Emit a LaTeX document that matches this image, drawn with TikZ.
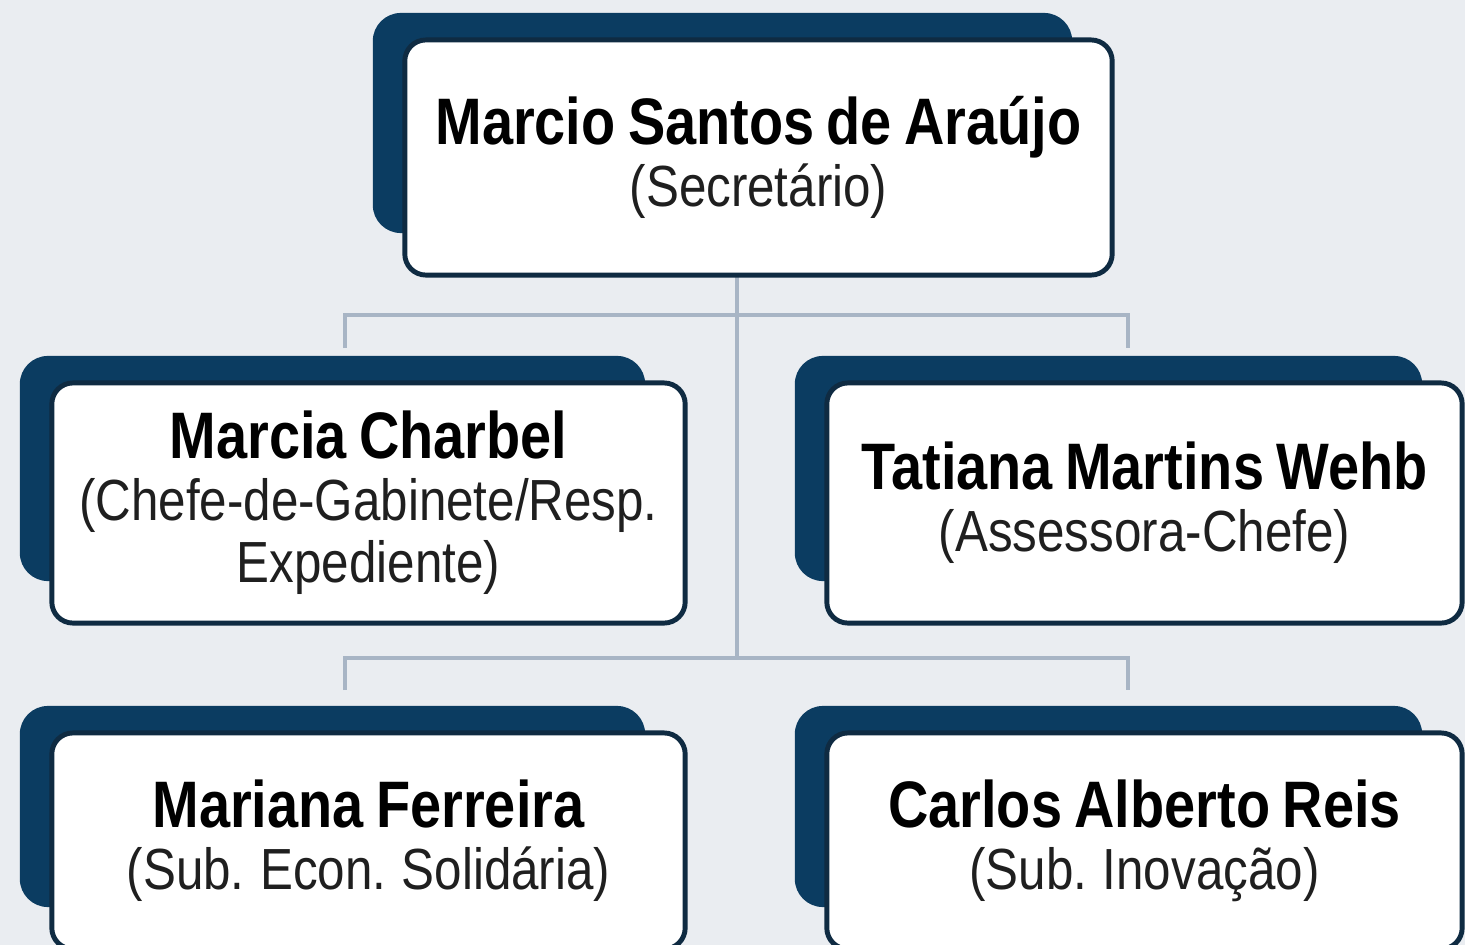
\documentclass[tikz,border=0pt]{standalone}
\usepackage{fontspec}
\setmainfont{Liberation Sans}[FakeStretch=0.85, WordSpace=0.8]
\usetikzlibrary{calc,backgrounds}

\definecolor{bgcol}{HTML}{EAEDF1}
\definecolor{platecol}{HTML}{0B3C61}
\definecolor{rimcol}{HTML}{0F2B42}
\definecolor{linkcol}{HTML}{A8B5C5}

\newcommand{\pname}[1]{{\bfseries\fontsize{18.7}{17.6}\selectfont\color{black} #1}}

\begin{document}
\begin{tikzpicture}[x=0.01cm, y=-0.01cm,
    box/.style={rectangle, rounded corners=6pt, draw=rimcol, line width=1.4pt,
      fill=white, align=center, inner sep=0pt, outer sep=0pt,
      font=\fontsize{16.5}{17.6}\selectfont, text=black!88},
    backplate/.style={fill=platecol, rounded corners=8pt},
    link/.style={draw=linkcol, line width=1pt}]

   \useasboundingbox (0,0) rectangle (1465,945);
   \clip (0,0) rectangle (1465,945);

   \node[box, minimum width=7.07cm, minimum height=2.35cm]
      (sec) at (758.5,157.5) {\pname{Marcio Santos de Araújo}\\(Secretário)};
   \node[box, minimum width=6.33cm, minimum height=2.40cm]
      (chefe) at (368.5,503) {\pname{Marcia Charbel}\\(Chefe-de-Gabinete/Resp.\\Expediente)};
   \node[box, minimum width=6.35cm, minimum height=2.40cm]
      (asses) at (1144.5,503) {\pname{Tatiana Martins Wehb}\\(Assessora-Chefe)};
   \node[box, minimum width=6.33cm, minimum height=2.16cm]
      (subecon) at (368.5,841) {\pname{Mariana Ferreira}\\(Sub. Econ. Solidária)};
   \node[box, minimum width=6.35cm, minimum height=2.16cm]
      (subinov) at (1144.5,841) {\pname{Carlos Alberto Reis}\\(Sub. Inovação)};

   \coordinate (j1) at (737,315);
   \coordinate (j2) at (737,658);
   \coordinate (l1) at (345,348);
   \coordinate (r1) at (1128,348);
   \coordinate (l2) at (345,690);
   \coordinate (r2) at (1128,690);

   \begin{pgfonlayer}{background}
     \fill[bgcol] (0,0) rectangle (1465,945);
     \foreach \n in {sec, chefe, asses, subecon, subinov}
       \fill[backplate] ($(\n.north west)+(-32,-27)$) rectangle ($(\n.south east)+(-40,-42)$);
     \draw[link] (sec.south -| j1) -- (j2);
     \foreach \l/\j/\r in {l1/j1/r1, l2/j2/r2}
       \draw[link] (\l) |- (\j) -| (\r);
   \end{pgfonlayer}

\end{tikzpicture}
\end{document}
